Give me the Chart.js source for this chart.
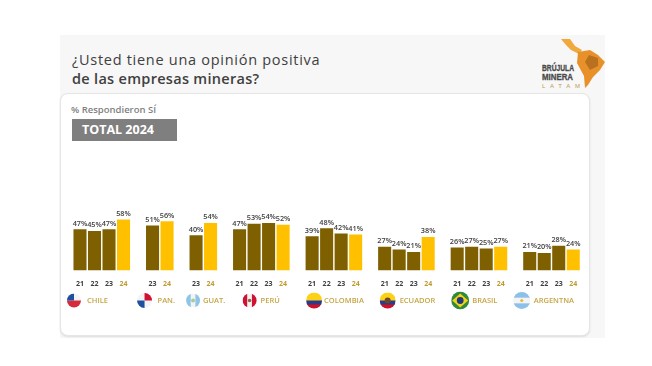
<!DOCTYPE html>
<html>
<head>
<meta charset="utf-8">
<script src="https://cdn.jsdelivr.net/npm/chart.js@4"></script>
<style>
  html, body { margin: 0; padding: 0; background: #fff; }
  #page { position: relative; width: 652px; height: 366px; overflow: hidden; font-family: "Open Sans", sans-serif; }
  #panel { position: absolute; left: 60px; top: 35px; width: 545px; height: 303px; background: #f7f7f7; }
  #card { position: absolute; left: 60px; top: 93px; width: 530px; height: 243px; background: #fff; border: 1px solid #e6e6e6; border-radius: 8px; box-sizing: border-box; box-shadow: 0 1px 2px #ddd; }
  #title { position: absolute; left: 72px; top: 50px; font-size: 14.5px; line-height: 19px; color: #404040; letter-spacing: 0.72px; white-space: nowrap; }
  #title b { font-weight: 600; letter-spacing: 0.3px; }
  #sub { position: absolute; left: 71px; top: 104px; font-size: 9.5px; line-height: 12px; font-weight: 600; color: #7f7f7f; white-space: nowrap; }
  #total { position: absolute; left: 72px; top: 119px; width: 105px; height: 22px; background: #7f7f7f; color: #fff; font-size: 12.5px; font-weight: 700; line-height: 22px; text-indent: 10px; }
  #logo { position: absolute; left: 0; top: 0; }
  canvas { position: absolute; left: 0; top: 0; }
</style>
</head>
<body>
<div id="page">
  <div id="panel"></div>
  <div id="card"></div>
  <div id="title">¿Usted tiene una opinión positiva<br><b>de las empresas mineras?</b></div>
  <div id="sub">% Respondieron SÍ</div>
  <div id="total">TOTAL 2024</div>
  <svg id="logo" width="652" height="366">
    <polygon points="561,39 570,39 575,46 582,50 579,54 571,50 566,45" fill="#f0a93c"/>
    <polygon points="578,52 590,50 598,55 605,62 600,70 593,77 588,85 585,88 584,76 577,63" fill="#e8912a"/>
    <polygon points="589,55 598,58 598,66 590,70 585,62" fill="#b9701f"/>
    <text x="542" y="71" font-family="Liberation Sans" font-weight="700" font-size="8.5" fill="#4a4a4a" stroke="#4a4a4a" stroke-width="0.3" textLength="32" lengthAdjust="spacingAndGlyphs">BRÚJULA</text>
    <text x="542" y="80" font-family="Liberation Sans" font-weight="700" font-size="9" fill="#4a4a4a" stroke="#4a4a4a" stroke-width="0.3" textLength="31" lengthAdjust="spacingAndGlyphs">MINERA</text>
    <text x="542" y="88" font-family="Liberation Sans" font-size="6" fill="#b89a50" textLength="38">LATAM</text>
  </svg>
  <canvas id="chart" width="652" height="366"></canvas>
</div>
<script>
const yearLabels = ['21','22','23','24','', '23','24','', '23','24','', '21','22','23','24','', '21','22','23','24','', '21','22','23','24','', '21','22','23','24','', '21','22','23','24'];
const values = [47,45,47,58,null, 51,56,null, 40,54,null, 47,53,54,52,null, 39,48,42,41,null, 27,24,21,38,null, 26,27,25,27,null, 21,20,28,24];
const countryNames = ['CHILE','PAN.','GUAT.','PERÚ','COLOMBIA','ECUADOR','BRASIL','ARGENTNA'];

const BROWN = '#7f6000';
const GOLD = '#ffc000';

// circle flags, clipped and striped
function stripes(ctx, x, y, r, colors, vertical) {
  colors.forEach((c, i) => {
    ctx.fillStyle = c;
    const s = 2 * r / colors.length;
    if (vertical) ctx.fillRect(x - r + i * s, y - r, s + 0.5, 2 * r);
    else ctx.fillRect(x - r, y - r + i * s, 2 * r, s + 0.5);
  });
}

const flags = {
  'CHILE': (ctx, x, y, r) => {
    stripes(ctx, x, y, r, ['#f4f4f4', '#d52b3a']);
    ctx.fillStyle = '#1f4fa0';
    ctx.fillRect(x - r, y - r, r, r);
  },
  'PAN.': (ctx, x, y, r) => {
    ctx.fillStyle = '#f4f4f4'; ctx.fillRect(x - r, y - r, 2 * r, 2 * r);
    ctx.fillStyle = '#d21034'; ctx.fillRect(x, y - r, r, r);
    ctx.fillStyle = '#1f4fa0'; ctx.fillRect(x - r, y, r, r);
  },
  'GUAT.': (ctx, x, y, r) => {
    stripes(ctx, x, y, r, ['#8fc4e8', '#f4f4f4', '#8fc4e8'], true);
    ctx.fillStyle = '#a9c9a0'; ctx.beginPath(); ctx.arc(x, y, 2, 0, 7); ctx.fill();
  },
  'PERÚ': (ctx, x, y, r) => {
    stripes(ctx, x, y, r, ['#d21034', '#f4f4f4', '#d21034'], true);
    ctx.fillStyle = '#8a6a3a'; ctx.beginPath(); ctx.arc(x, y, 1.8, 0, 7); ctx.fill();
  },
  'COLOMBIA': (ctx, x, y, r) => {
    stripes(ctx, x, y, r, ['#fcd116', '#fcd116', '#2a3a8c', '#ce1126']);
  },
  'ECUADOR': (ctx, x, y, r) => {
    stripes(ctx, x, y, r, ['#fcd116', '#fcd116', '#2a3a8c', '#ce1126']);
    ctx.fillStyle = '#6b4a2a'; ctx.beginPath(); ctx.arc(x, y, 3, 0, 7); ctx.fill();
  },
  'BRASIL': (ctx, x, y, r) => {
    ctx.fillStyle = '#2f8a3a'; ctx.fillRect(x - r, y - r, 2 * r, 2 * r);
    ctx.fillStyle = '#f2d21a';
    ctx.beginPath();
    ctx.moveTo(x - r + 1, y); ctx.lineTo(x, y - r + 2); ctx.lineTo(x + r - 1, y); ctx.lineTo(x, y + r - 2);
    ctx.fill();
    ctx.fillStyle = '#1f3a7a'; ctx.beginPath(); ctx.arc(x, y, 3.4, 0, 7); ctx.fill();
  },
  'ARGENTNA': (ctx, x, y, r) => {
    stripes(ctx, x, y, r, ['#8cc0e8', '#f4f4f4', '#8cc0e8']);
    ctx.fillStyle = '#e8b93a'; ctx.beginPath(); ctx.arc(x, y, 1.5, 0, 7); ctx.fill();
  },
};

// first bar index of each country (a blank slot separates the groups)
const groupStart = [];
yearLabels.forEach((l, i) => { if (l && !yearLabels[i - 1]) groupStart.push(i); });

// flag centre and label left, relative to the group's first bar
const flagOffset = [-6, -8, -3, 10, 2, 3, 3, -8];
const labelOffset = [7, 5, 7, 21, 12, 15, 15, 4];
const flagRadius = [7, 7.5, 7, 7, 8, 8, 9, 8.5];

const valueLabels = {
  id: 'valueLabels',
  afterDatasetsDraw(chart) {
    const ctx = chart.ctx;
    const meta = chart.getDatasetMeta(0);
    ctx.save();
    ctx.font = '600 7.3px "Open Sans"';
    ctx.fillStyle = '#404040';
    ctx.textAlign = 'center';
    ctx.textBaseline = 'bottom';
    meta.data.forEach((bar, i) => {
      if (values[i] == null) return;
      ctx.fillText(values[i] + '%', bar.x, bar.y - 2);
    });
    ctx.restore();
  }
};

const countryRow = {
  id: 'countryRow',
  afterDraw(chart) {
    const ctx = chart.ctx;
    const xs = chart.scales.x;
    const y = 300.5;
    countryNames.forEach((name, i) => {
      const x0 = xs.getPixelForValue(groupStart[i]);
      const fx = x0 + flagOffset[i];
      const r = flagRadius[i];
      ctx.save();
      ctx.beginPath();
      ctx.arc(fx, y, r, 0, Math.PI * 2);
      ctx.clip();
      flags[name](ctx, fx, y, r);
      ctx.restore();
      ctx.save();
      ctx.font = '600 7.5px "Open Sans"';
      ctx.fillStyle = '#c4a544';
      ctx.textAlign = 'left';
      ctx.textBaseline = 'middle';
      ctx.fillText(name, x0 + labelOffset[i], y);
      ctx.restore();
    });
  }
};

new Chart(document.getElementById('chart'), {
  type: 'bar',
  data: {
    labels: yearLabels,
    datasets: [{
      data: values,
      backgroundColor: yearLabels.map((l) => (l === '24' ? GOLD : BROWN)),
      categoryPercentage: 1,
      barPercentage: 0.9,
    }],
  },
  options: {
    responsive: false,
    animation: false,
    layout: { padding: { left: 72.75, right: 71.5, top: 182.5, bottom: 75.5 } },
    plugins: { legend: { display: false }, tooltip: { enabled: false } },
    scales: {
      x: {
        grid: { display: false, drawTicks: false, tickLength: 0 },
        border: { display: false },
        afterFit: (scale) => { scale.height = 20; },
        ticks: {
          autoSkip: false,
          maxRotation: 0,
          padding: 9,
          font: { family: 'Open Sans', size: 7, weight: '700' },
          color: (c) => (yearLabels[c.index] === '24' ? '#bf9b30' : '#404040'),
        },
      },
      y: { display: false, min: 0, max: 100 },
    },
  },
  plugins: [valueLabels, countryRow],
});
</script>
</body>
</html>
